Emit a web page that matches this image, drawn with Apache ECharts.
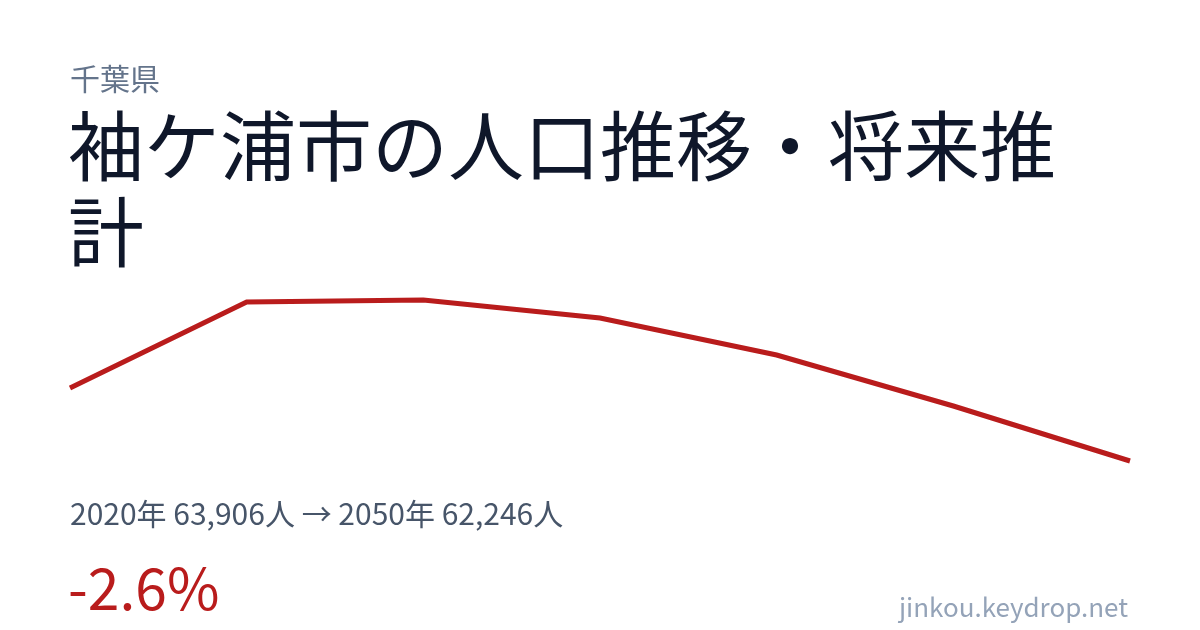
<!DOCTYPE html>
<html>
<head>
<meta charset="utf-8">
<script src="https://cdn.jsdelivr.net/npm/echarts@6/dist/echarts.min.js"></script>
<style>
html,body{margin:0;padding:0;background:#fff;}
#c{width:1200px;height:630px;}
</style>
</head>
<body>
<div id="c"></div>
<script>
const years = ['2020','2025','2030','2035','2040','2045','2050'];
const population = [63906, 65862, 65907, 65498, 64656, 63497, 62246];
const prefecture = '千葉県';
const titleText = '袖ケ浦市の人口推移・将来推\n計';
const summaryText = '2020年 63,906人 → 2050年 62,246人';
const changeText = '-2.6%';
const siteText = 'jinkou.keydrop.net';

const FONT = '"Noto Sans CJK JP", "Noto Sans", sans-serif';
const chart = echarts.init(document.getElementById('c'));
chart.setOption({
  backgroundColor: '#ffffff',
  animation: false,
  grid: { left: 70, right: 70, top: 290, height: 190 },
  xAxis: { type: 'category', data: years, boundaryGap: false, show: false },
  yAxis: { type: 'value', min: 61814, max: 66134, show: false },
  series: [{
    type: 'line',
    data: population,
    symbol: 'none',
    lineStyle: { color: '#b91c1c', width: 5, join: 'miter' }
  }],
  graphic: [
    { type: 'text', x: 70, y: 79, style: { text: prefecture, font: '30px ' + FONT, fill: '#64748b', textVerticalAlign: 'middle' } },
    { type: 'text', x: 68, y: 103, style: { text: titleText, font: '76px ' + FONT, fill: '#0f172a', lineHeight: 86, textVerticalAlign: 'top' } },
    { type: 'text', x: 70, y: 514, style: { text: summaryText, font: '30px ' + FONT, fill: '#475569', textVerticalAlign: 'middle' } },
    { type: 'text', x: 68, y: 588, style: { text: changeText, font: '57px ' + FONT, fill: '#b91c1c', textVerticalAlign: 'middle' } },
    { type: 'text', x: 1128, y: 607, style: { text: siteText, font: '26px ' + FONT, fill: '#94a3b8', textAlign: 'right', textVerticalAlign: 'middle' } }
  ]
});
</script>
</body>
</html>
